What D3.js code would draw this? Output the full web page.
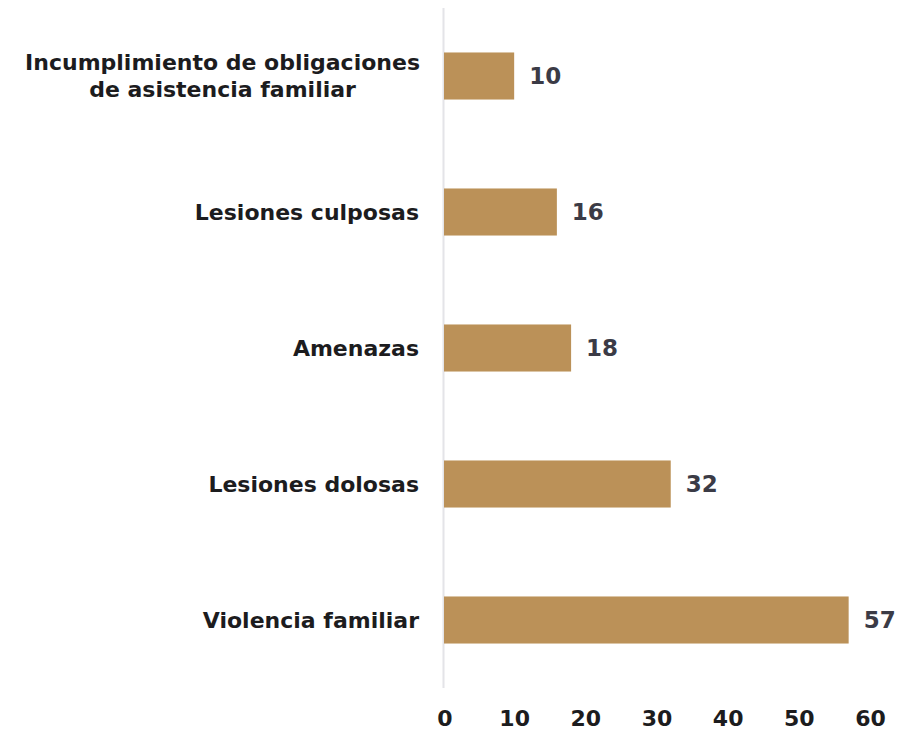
<!DOCTYPE html>
<html><head><meta charset="utf-8">
<script src="https://cdn.jsdelivr.net/npm/d3@7"></script>
<style>body{margin:0;background:#fff}svg{display:block}</style>
</head><body>
<svg id="c" width="902" height="734"></svg>
<script>
const categories = [
  ["Incumplimiento de obligaciones", "de asistencia familiar"],
  ["Lesiones culposas"],
  ["Amenazas"],
  ["Lesiones dolosas"],
  ["Violencia familiar"]
];
const values = [10, 16, 18, 32, 57];
const tickValues = [0, 10, 20, 30, 40, 50, 60];

const svg = d3.select("#c");
const font = "'DejaVu Sans', sans-serif";
const keys = categories.map(c => c.join(" "));

const x = d3.scaleLinear().domain([0, 60]).range([443, 870]);
const y = d3.scaleBand().domain(keys).range([8, 688]).paddingInner(0.654).paddingOuter(0.327);

// axis line
svg.append("line").attr("x1", 443.5).attr("x2", 443.5).attr("y1", 8).attr("y2", 688)
  .attr("stroke", "#e4e4e8").attr("stroke-width", 2);

svg.selectAll("rect.bar").data(values).join("rect").attr("class", "bar")
  .attr("x", x(0) + 1).attr("y", (d, i) => y(keys[i]))
  .attr("width", d => x(d) - x(0) - 1).attr("height", y.bandwidth())
  .attr("fill", "#bb9158");

// value labels
svg.selectAll("text.val").data(values).join("text").attr("class", "val")
  .attr("x", d => x(d) + 15).attr("y", (d, i) => y(keys[i]) + y.bandwidth() / 2)
  .attr("dy", "0.36em").attr("font-family", font).attr("font-weight", "bold")
  .attr("font-size", 23).attr("fill", "#3b3b46").text(d => d);

// category labels
categories.forEach((lines, i) => {
  const cy = y(keys[i]) + y.bandwidth() / 2;
  const t = svg.append("text").attr("x", 419).attr("text-anchor", "end")
    .attr("font-family", font).attr("font-weight", "bold").attr("font-size", 22)
    .attr("fill", "#1c1c1e");
  lines.forEach((l, j) => {
    t.append("tspan").attr("x", 419)
      .attr("y", cy + (j - (lines.length - 1) / 2) * 27).attr("dy", "0.36em")
      .attr("text-anchor", lines.length > 1 ? "middle" : "end")
      .text(l);
  });
  if (lines.length > 1) {
    const w = t.node().getBBox().width;
    t.selectAll("tspan").attr("x", 420 - w / 2);
  }
});

// x axis tick labels
const ax = svg.append("g").attr("transform", "translate(0,718)")
  .call(d3.axisBottom(x).tickValues(tickValues).tickSize(0).tickPadding(0).tickFormat(d3.format("d")));
ax.select(".domain").remove();
ax.selectAll("text").attr("dy", "0.36em").attr("font-family", font).attr("font-weight", "bold")
  .attr("font-size", 22).attr("fill", "#1c1c1e").attr("dx", (d) => d === 0 ? 1.5 : 0);
</script>
</body></html>
